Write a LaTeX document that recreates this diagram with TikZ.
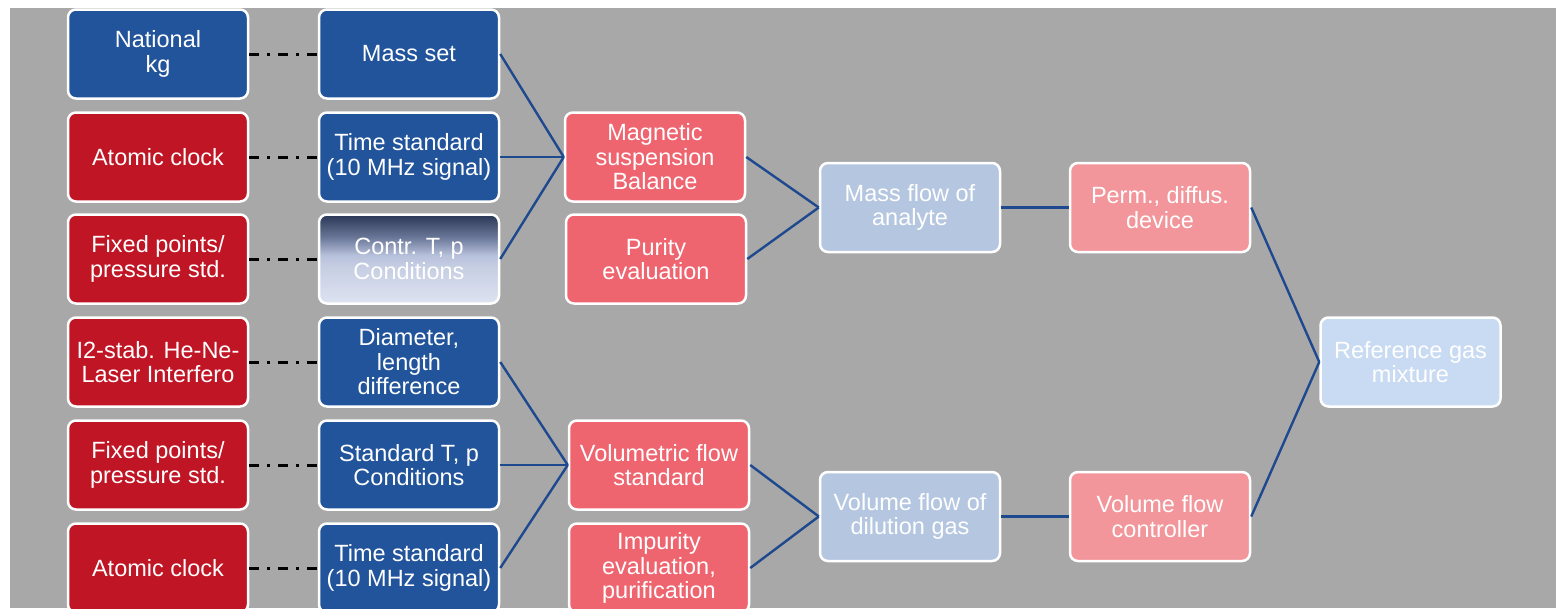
\documentclass[tikz,border=0pt]{standalone}
\usepackage{fontspec}
\setmainfont{Liberation Sans}
\definecolor{bgGray}{RGB}{168,168,168}
\definecolor{boxBlue}{RGB}{34,84,155}
\definecolor{boxRed}{RGB}{192,21,36}
\definecolor{boxPink}{RGB}{238,101,112}
\definecolor{boxLPink}{RGB}{242,150,155}
\definecolor{boxLBlue}{RGB}{181,198,224}
\definecolor{boxPBlue}{RGB}{201,219,242}
\definecolor{lineBlue}{RGB}{31,73,142}
\pgfdeclareverticalshading{contrshade}{100bp}{%
  rgb(0bp)=(0.87,0.89,0.945);
  rgb(25bp)=(0.87,0.89,0.945);
  rgb(45bp)=(0.78,0.81,0.89);
  rgb(52bp)=(0.72,0.76,0.86);
  rgb(62bp)=(0.42,0.47,0.60);
  rgb(75bp)=(0.16,0.21,0.33);
  rgb(100bp)=(0.16,0.21,0.33)}
\tikzset{
  box/.style={rectangle, rounded corners=8pt, draw=white, line width=2.5pt,
    minimum width=180pt, minimum height=89pt, inner sep=0pt, align=center,
    text=white, font=\fontsize{23.5}{24.5}\selectfont},
  bluebox/.style={box, fill=boxBlue},
  redbox/.style={box, fill=boxRed},
  pinkbox/.style={box, fill=boxPink},
  lpinkbox/.style={box, fill=boxLPink},
  lbluebox/.style={box, fill=boxLBlue},
  pbluebox/.style={box, fill=boxPBlue},
  gradbox/.style={box, shading=contrshade},
  link/.style={draw=lineBlue, line width=2.4pt},
  dotlink/.style={draw=black, line width=3pt, dash pattern=on 10pt off 8pt on 3pt off 8pt}
}
\begin{document}
\begin{tikzpicture}[x=1pt,y=-1pt]
\useasboundingbox (0,0) rectangle (1556,608);
\clip (0,0) rectangle (1556,608);
\fill[white] (0,0) rectangle (1556,608);
\fill[bgGray] (10,8) rectangle (1556,608);

% column 1
\node[bluebox] (nkg)  at (158,54)  {National\\kg};
\node[redbox]  (ac1)  at (158,157) {Atomic clock};
\node[redbox]  (fp1)  at (158,259) {Fixed points/\\pressure std.};
\node[redbox]  (las)  at (158,362) {I2-stab. He-Ne-\\Laser Interfero};
\node[redbox]  (fp2)  at (158,465) {Fixed points/\\pressure std.};
\node[redbox]  (ac2)  at (158,568) {Atomic clock};

% column 2
\node[bluebox] (mset) at (409,54)  {Mass set};
\node[bluebox] (ts1)  at (409,157) {Time standard\\(10 MHz signal)};
\node[gradbox] (ctp)  at (409,259) {Contr. T, p\\Conditions};
\node[bluebox] (dia)  at (409,362) {Diameter,\\length\\difference};
\node[bluebox] (stp)  at (409,465) {Standard T, p\\Conditions};
\node[bluebox] (ts2)  at (409,568) {Time standard\\(10 MHz signal)};

% column 3
\node[pinkbox] (msb)  at (655,157) {Magnetic\\suspension\\Balance};
\node[pinkbox] (pur)  at (656,259) {Purity\\evaluation};
\node[pinkbox] (vfs)  at (659,465) {Volumetric flow\\standard};
\node[pinkbox] (imp)  at (659,568) {Impurity\\evaluation,\\purification};

% column 4
\node[lbluebox] (mfa) at (910,207.5) {Mass flow of\\analyte};
\node[lbluebox] (vfd) at (910,516.5) {Volume flow of\\dilution gas};

% column 5
\node[lpinkbox] (pdd) at (1160,207.5) {Perm., diffus.\\device};
\node[lpinkbox] (vfc) at (1160,516.5) {Volume flow\\controller};

% column 6
\node[pbluebox] (rgm) at (1410.5,362) {Reference gas\\mixture};

% dash-dot links
\draw[dotlink] (nkg.east) -- (mset.west);
\draw[dotlink] (ac1.east) -- (ts1.west);
\draw[dotlink] (fp1.east) -- (ctp.west);
\draw[dotlink] (las.east) -- (dia.west);
\draw[dotlink] (fp2.east) -- (stp.west);
\draw[dotlink] (ac2.east) -- (ts2.west);

% solid links
\draw[link] (mset.east) -- (msb.west);
\draw[link] (ts1.east) -- (msb.west);
\draw[link] (ctp.east) -- (msb.west);
\draw[link] (dia.east) -- (vfs.west);
\draw[link] (stp.east) -- (vfs.west);
\draw[link] (ts2.east) -- (vfs.west);
\draw[link] (msb.east) -- (mfa.west);
\draw[link] (pur.east) -- (mfa.west);
\draw[link] (vfs.east) -- (vfd.west);
\draw[link] (imp.east) -- (vfd.west);
\draw[link] (mfa.east) -- (pdd.west);
\draw[link] (vfd.east) -- (vfc.west);
\draw[link] (pdd.east) -- (rgm.west);
\draw[link] (vfc.east) -- (rgm.west);
\end{tikzpicture}
\end{document}
